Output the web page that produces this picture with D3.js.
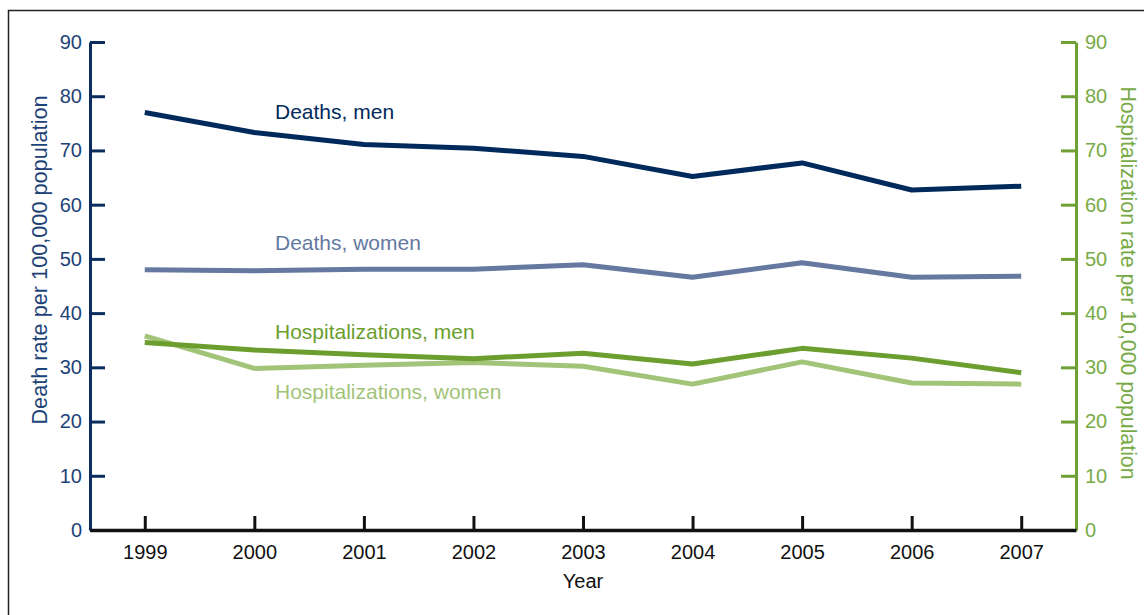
<!DOCTYPE html>
<html lang="en">
<head>
    <meta charset="UTF-8">
    <script src="https://d3js.org/d3.v7.min.js"></script>
    <style>
        body { margin: 0; background: #fff; }
        text { font-family: "Liberation Sans", Arial, sans-serif; }
    </style>
    <title>Death and hospitalization rates</title>
</head>
<body>
    <div class="canvas"></div>
    <script>
        const years = [1999, 2000, 2001, 2002, 2003, 2004, 2005, 2006, 2007]
        const deathsMen = [77.0, 73.3, 71.1, 70.4, 68.9, 65.2, 67.7, 62.7, 63.4]
        const deathsWomen = [48.0, 47.8, 48.1, 48.1, 48.9, 46.6, 49.3, 46.6, 46.8]
        const hospMen = [34.6, 33.2, 32.3, 31.6, 32.6, 30.6, 33.5, 31.7, 29.0]
        const hospWomen = [35.8, 29.8, 30.4, 30.9, 30.2, 26.9, 31.0, 27.1, 26.9]
        const yTicks = [0, 10, 20, 30, 40, 50, 60, 70, 80, 90]

        const areaWidth = 1144
        const areaHeight = 615
        const svg = d3.select('.canvas')
            .append('svg')
            .attr('width', areaWidth)
            .attr('height', areaHeight)

        // frame
        svg.append('rect')
            .attr('x', 8.5).attr('y', 10.5)
            .attr('width', 1200).attr('height', 700)
            .attr('fill', 'none')
            .attr('stroke', '#222')
            .attr('stroke-width', 1.5)

        const [pl, pr, pt, pb] = [90, 1076, 42, 530]
        const navy = '#0b2d5e'
        const navyText = '#1d4278'
        const green = '#6fa035'
        const greenText = '#77aa46'

        const x = d3.scaleLinear().domain([1998.5, 2007.5]).range([pl, pr])
        const yL = d3.scaleLinear().domain([0, 90]).range([pb, pt])
        const yR = d3.scaleLinear().domain([0, 90]).range([pb, pt])

        // left axis
        const leftG = svg.append('g').attr('transform', `translate(${pl},0)`)
            .call(d3.axisLeft(yL).tickValues(yTicks).tickSize(-15).tickSizeOuter(0).tickPadding(8))
        leftG.selectAll('path, line').attr('stroke', navy).attr('stroke-width', 3)
        leftG.selectAll('text').attr('fill', navyText).style('font-size', '20px')

        // right axis
        const rightG = svg.append('g').attr('transform', `translate(${pr},0)`)
            .call(d3.axisRight(yR).tickValues(yTicks).tickSize(-15).tickSizeOuter(0).tickPadding(9))
        rightG.selectAll('path, line').attr('stroke', green).attr('stroke-width', 3)
        rightG.selectAll('text').attr('fill', greenText).style('font-size', '20px')

        // x axis
        const xG = svg.append('g').attr('transform', `translate(0,${pb})`)
            .call(d3.axisBottom(x).tickValues(years).tickFormat(d3.format('d'))
                .tickSize(-14).tickSizeOuter(0).tickPadding(15))
        xG.selectAll('path, line').attr('stroke', '#111').attr('stroke-width', 3)
        xG.select('.domain').attr('stroke-width', 3.5)
        xG.selectAll('text').attr('fill', '#111').style('font-size', '20px')

        // axis titles
        svg.append('text')
            .attr('transform', `translate(47,260) rotate(-90)`)
            .attr('text-anchor', 'middle')
            .attr('fill', navyText)
            .style('font-size', '21.7px')
            .text('Death rate per 100,000 population')

        svg.append('text')
            .attr('transform', `translate(1121,283) rotate(90)`)
            .attr('text-anchor', 'middle')
            .attr('fill', greenText)
            .style('font-size', '21.3px')
            .text('Hospitalization rate per 10,000 population')

        svg.append('text')
            .attr('x', (pl + pr) / 2)
            .attr('y', 588)
            .attr('text-anchor', 'middle')
            .attr('fill', '#111')
            .style('font-size', '20px')
            .text('Year')

        // series
        const series = [
            { values: deathsMen, scale: yL, color: '#00295c', label: 'Deaths, men', ly: 119 },
            { values: deathsWomen, scale: yL, color: '#6478a0', label: 'Deaths, women', ly: 250 },
            { values: hospMen, scale: yR, color: '#6b9e2e', label: 'Hospitalizations, men', ly: 339 },
            { values: hospWomen, scale: yR, color: '#a2c479', label: 'Hospitalizations, women', ly: 399 }
        ]

        // light green first so dark green sits on top
        const order = [series[3], series[2], series[1], series[0]]
        order.forEach(s => {
            const line = d3.line()
                .x((d, i) => x(years[i]))
                .y(d => s.scale(d))
            svg.append('path')
                .attr('d', line(s.values))
                .attr('fill', 'none')
                .attr('stroke', s.color)
                .attr('stroke-width', 5)
                .attr('stroke-linejoin', 'round')
        })

        series.forEach(s => {
            svg.append('text')
                .attr('x', 275)
                .attr('y', s.ly)
                .attr('fill', s.color)
                .style('font-size', '21px')
                .text(s.label)
        })
    </script>
</body>
</html>
